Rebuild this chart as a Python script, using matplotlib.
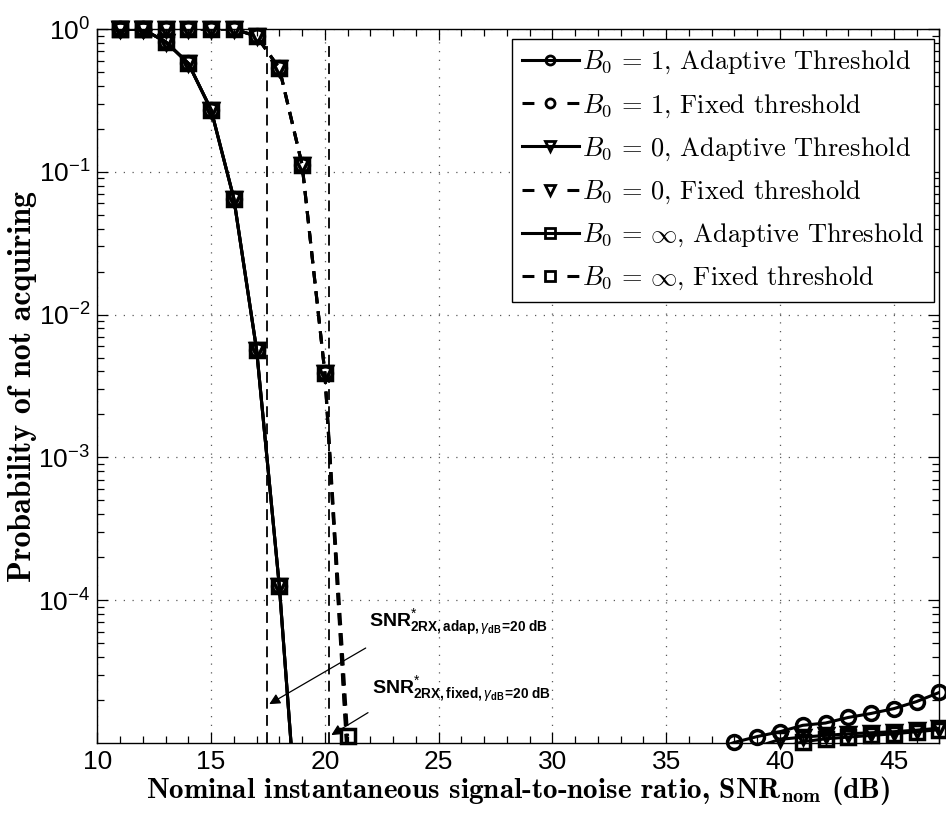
import numpy as np
import matplotlib
matplotlib.use("Agg")
import matplotlib.pyplot as plt
from matplotlib.lines import Line2D
from matplotlib.ticker import MultipleLocator, LogLocator, NullFormatter, FixedLocator

plt.rcParams['mathtext.fontset'] = 'custom'
plt.rcParams['mathtext.rm'] = 'Liberation Sans'
plt.rcParams['mathtext.it'] = 'Liberation Sans:italic'
plt.rcParams['mathtext.bf'] = 'Liberation Sans:bold'
plt.rcParams['font.family'] = ['Liberation Sans', 'DejaVu Sans']

# --- data ---
# adaptive threshold: identical for all B0 at low SNR, error floor at high SNR
snr_adapt_b1 = [11, 12, 13, 14, 15, 16, 17, 18, 19, 38, 39, 40, 41, 42, 43, 44, 45, 46, 47]
p_adapt_b1 = [1.0, 0.995, 0.815, 0.575, 0.272, 0.065, 0.00567, 1.25e-4, 9e-7,
              1.01e-5, 1.11e-5, 1.2e-5, 1.33e-5, 1.38e-5, 1.51e-5, 1.61e-5, 1.74e-5, 1.95e-5, 2.26e-5]
snr_adapt_b0 = [11, 12, 13, 14, 15, 16, 17, 18, 19, 40, 41, 42, 43, 44, 45, 46, 47]
p_adapt_b0 = [1.0, 0.995, 0.815, 0.575, 0.272, 0.065, 0.00567, 1.25e-4, 9e-7,
              1.06e-5, 1.1e-5, 1.13e-5, 1.16e-5, 1.18e-5, 1.2e-5, 1.23e-5, 1.27e-5]
snr_adapt_binf = [11, 12, 13, 14, 15, 16, 17, 18, 19, 41, 42, 43, 44, 45, 46, 47]
p_adapt_binf = [1.0, 0.995, 0.815, 0.575, 0.272, 0.065, 0.00567, 1.25e-4, 9e-7,
                1.02e-5, 1.07e-5, 1.1e-5, 1.13e-5, 1.16e-5, 1.2e-5, 1.24e-5]

# fixed threshold
snr_fixed = [11, 12, 13, 14, 15, 16, 17, 18, 19, 20, 21]
p_fixed_b1 = [1.0, 1.0, 1.0, 1.0, 1.0, 1.0, 0.89, 0.53, 0.112, 0.0039, 8e-6]
p_fixed_b0 = [1.0, 1.0, 1.0, 1.0, 1.0, 1.0, 0.89, 0.53, 0.112, 0.0039, 7e-6]
p_fixed_binf = [1.0, 1.0, 1.0, 1.0, 1.0, 1.0, 0.89, 0.53, 0.112, 0.0039, 1.12e-5]

# SNR* markers (vertical dashed lines)
snr_star = [17.45, 20.2]
snr_star_top = 0.82

labels = [r'$B_0 \,=\, 1$, Adaptive Threshold', r'$B_0 \,=\, 1$, Fixed threshold',
          r'$B_0 \,=\, 0$, Adaptive Threshold', r'$B_0 \,=\, 0$, Fixed threshold',
          r'$B_0 \,=\, \infty$, Adaptive Threshold', r'$B_0 \,=\, \infty$, Fixed threshold']

YMIN, YMAX = 1e-5, 1.0
XMIN, XMAX = 10, 47

fig = plt.figure(figsize=(9.46, 8.14), dpi=100)
ax = fig.add_axes([0.10285, 0.08722, 0.89006, 0.87715])

series = [
    (snr_adapt_b1, p_adapt_b1, 'o', '-'),
    (snr_fixed, p_fixed_b1, 'o', '--'),
    (snr_adapt_b0, p_adapt_b0, 'v', '-'),
    (snr_fixed, p_fixed_b0, 'v', '--'),
    (snr_adapt_binf, p_adapt_binf, 's', '-'),
    (snr_fixed, p_fixed_binf, 's', '--'),
]
handles = []
for (x, y, mk, ls), lab in zip(series, labels):
    x = np.asarray(x, float)
    y = np.asarray(y, float)
    kw = dict(color='k', lw=2.2)
    if ls == '--':
        ax.plot(x, y, linestyle=(0, (4.0, 2.6)), **kw)
    else:
        ax.plot(x, y, linestyle='-', **kw)
    # markers drawn whole, like MATLAB, but only where the point is inside the axes
    inside = (y >= YMIN * 0.999) & (y <= YMAX * 1.001)
    ax.plot(x[inside], y[inside], linestyle='none', marker=mk, ms=10,
            mfc='none', mec='k', mew=2.5, clip_on=False, zorder=3)
    handles.append(Line2D([], [], color='k', lw=2.2,
                          linestyle=(0, (3.9, 10.8)) if ls == '--' else '-',
                          marker=mk, ms=6.5, mfc='none', mec='k', mew=2.0))

for xs in snr_star:
    ax.plot([xs, xs], [YMIN, snr_star_top], color='k', lw=1.3, linestyle=(0, (6, 3.5)))

ax.set_yscale('log')
ax.set_xlim(XMIN, XMAX)
ax.set_ylim(YMIN, YMAX)

ax.xaxis.set_major_locator(MultipleLocator(5))
ax.xaxis.set_minor_locator(MultipleLocator(1))
ax.yaxis.set_major_locator(FixedLocator([1e-4, 1e-3, 1e-2, 1e-1, 1e0]))
ax.yaxis.set_minor_locator(LogLocator(base=10, subs=np.arange(2, 10), numticks=20))
ax.yaxis.set_minor_formatter(NullFormatter())
ax.set_yticklabels([r'$10^{-4}$', r'$10^{-3}$', r'$10^{-2}$', r'$10^{-1}$', r'$10^{0}$'])

ax.tick_params(which='both', direction='in', top=True, right=True, labelsize=19, pad=5)
ax.tick_params(which='major', length=8, width=0.9)
ax.tick_params(which='minor', length=5, width=0.9)
for sp in ax.spines.values():
    sp.set_linewidth(1.0)

ax.grid(True, which='major', color='0.35', linestyle=(0, (1, 6)), linewidth=0.9)

xl = ax.set_xlabel(r'Nominal instantaneous signal-to-noise ratio, SNR$_{\mathbf{nom}}$ (dB)',
                   fontsize=21, family='cmb10', labelpad=0)
xl.set_math_fontfamily('cm')
yl = ax.set_ylabel('Probability of not acquiring', fontsize=23, family='cmb10', labelpad=1)

leg = ax.legend(handles, labels, loc='upper right', bbox_to_anchor=(0.994, 0.986),
                borderaxespad=0, fancybox=False, edgecolor='k', framealpha=1,
                handlelength=2.15, handletextpad=0.12, labelspacing=0.6,
                borderpad=0.38, prop={'family': 'cmr10', 'size': 19})
leg.get_frame().set_linewidth(1.0)
for t in leg.get_texts():
    t.set_math_fontfamily('cm')

# annotations
ax.annotate('', xy=(17.45, 1.83e-5), xytext=(21.9, 4.73e-5),
            arrowprops=dict(arrowstyle='-|>', color='k', lw=0.9, mutation_scale=16))
ax.annotate('', xy=(20.18, 1.11e-5), xytext=(22.0, 1.67e-5),
            arrowprops=dict(arrowstyle='-|>', color='k', lw=0.9, mutation_scale=16))
ax.text(21.93, 6.43e-5, r'$\mathbf{SNR}^{*}_{\mathbf{2RX,adap,}\gamma_{\mathbf{dB}}\mathbf{\!=\!20\ dB}}$',
        fontsize=14, va='baseline', ha='left')
ax.text(22.06, 2.19e-5, r'$\mathbf{SNR}^{*}_{\mathbf{2RX,fixed,}\gamma_{\mathbf{dB}}\mathbf{\!=\!20\ dB}}$',
        fontsize=14, va='baseline', ha='left')

fig.savefig('out.png', dpi=100)
